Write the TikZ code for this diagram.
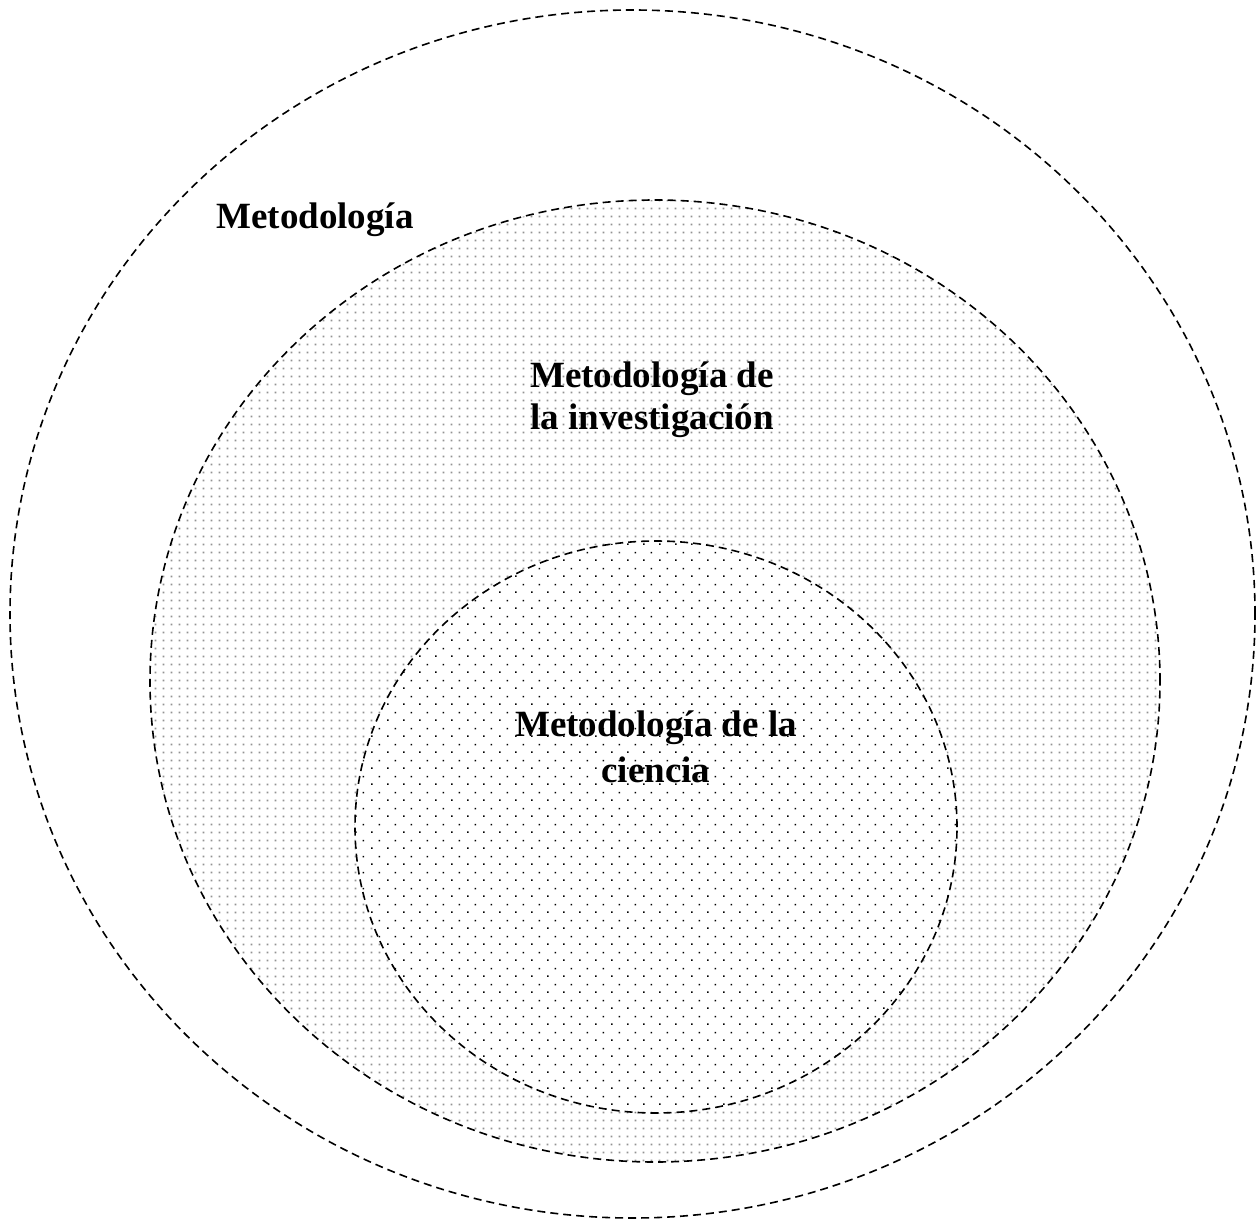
\documentclass[tikz,border=0pt]{standalone}
\usepackage{fontspec}
\setmainfont{Liberation Serif}
\usetikzlibrary{patterns,shapes.geometric}
\pgfdeclarepatternformonly{graydots}{\pgfpointorigin}{\pgfpoint{4pt}{4pt}}{\pgfpoint{4pt}{4pt}}{%
  \pgfpathrectangle{\pgfpoint{1.5pt}{1.5pt}}{\pgfpoint{1pt}{1pt}}\pgfusepath{fill}}
\pgfdeclarepatternformonly{blackdots}{\pgfpointorigin}{\pgfpoint{8pt}{8pt}}{\pgfpoint{8pt}{8pt}}{%
  \pgfpathrectangle{\pgfpoint{1.6pt}{1.6pt}}{\pgfpoint{0.8pt}{0.8pt}}\pgfusepath{fill}%
  \pgfpathrectangle{\pgfpoint{5.6pt}{5.6pt}}{\pgfpoint{0.8pt}{0.8pt}}\pgfusepath{fill}}
\tikzset{
  ring/.style={ellipse, draw=black, line width=0.8pt, dash pattern=on 4pt off 2.5pt, inner sep=0pt, outer sep=0pt},
  lbl/.style={font=\fontsize{18.5}{21}\selectfont\bfseries, align=center, text=black}
}
\begin{document}
\begin{tikzpicture}[x=0.5pt,y=-0.5pt]
\useasboundingbox (0,0) rectangle (1258,1220);
\fill[white] (0,0) rectangle (1258,1220);
\node[ring, minimum width=622.5pt, minimum height=604pt] (outer) at (632.5,614) {};
\node[ring, minimum width=505pt, minimum height=481pt, pattern=graydots, pattern color=gray!85] (middle) at (655,681) {};
\node[ring, minimum width=301pt, minimum height=286pt, preaction={fill=white}, pattern=blackdots, pattern color=black] (inner) at (656,827) {};
\node[lbl] (t1) at (315,220) {Metodología};
\node[lbl] (t2) at (652,400) {Metodología de\\la investigación};
\node[lbl, font=\fontsize{18.5}{23}\selectfont\bfseries] (t3) at (656,747) {Metodología de la\\ciencia};
\end{tikzpicture}
\end{document}
